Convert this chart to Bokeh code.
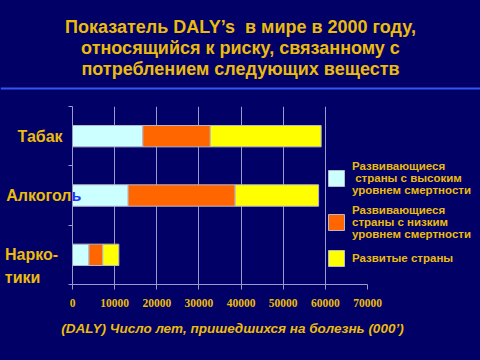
from bokeh.plotting import figure
from bokeh.layouts import column
from bokeh.models import (ColumnDataSource, FixedTicker, Label, Legend, LegendItem,
                          BoxAnnotation)
from bokeh.embed import file_html
from bokeh.resources import INLINE

# ---- data ----
categories = ["Табак", "Алкоголь", "Нарко-тики"]
high_mortality = [16700, 13200, 3900]
low_mortality = [16000, 25400, 3300]
developed = [26300, 19800, 3800]
series_labels = ["Развивающиеся\n страны с высоким\nуровнем смертности",
                 "Развивающиеся\nстраны с низким\nуровнем смертности",
                 "Развитые страны"]
x_ticks = [0, 10000, 20000, 30000, 40000, 50000, 60000, 70000]
title_lines = ["Показатель DALY’s\u00a0 в мире в 2000 году,",
               "относящийся к риску, связанному с",
               "потреблением следующих веществ"]
x_title = "(DALY) Число лет, пришедшихся на болезнь (000’)"

BG = "#000066"
GOLD = "#ECBC0A"
GRID = "#9A9ACB"
colors = ["#CCFFFF", "#FF6600", "#FFFF00"]
NB = "\u00a0"

W = 480
# ---------- top: title + separator ----------
TOP_H = 96
top = figure(width=W, height=TOP_H, output_backend="svg", toolbar_location=None,
             x_axis_type=None, y_axis_type=None, x_range=(0, 1), y_range=(0, 1),
             min_border=0, background_fill_color=BG, border_fill_color=BG,
             outline_line_color=None)
top.frame_align = False
for t, Y in zip(title_lines, [26, 47, 68]):
    top.add_layout(Label(x=240, y=TOP_H - Y, x_units="screen", y_units="screen", text=t,
                         text_align="center", text_baseline="middle", text_color=GOLD,
                         text_font="Liberation Sans", text_font_style="bold",
                         text_font_size="18px"))
top.add_layout(BoxAnnotation(left=0, right=W, bottom=TOP_H - 89, top=TOP_H - 87,
                             left_units="screen", right_units="screen",
                             top_units="screen", bottom_units="screen",
                             fill_color="#3355EE", fill_alpha=1, line_color=None))

# ---------- main chart ----------
MAIN_H = 219          # page y 96 .. 315
FRAME_L, FRAME_R_PAGE = 72, 367   # page x of 0 and 70000
n = len(categories)
ypos = [n - i - 0.5 for i in range(n)]
src = ColumnDataSource(dict(y=ypos, high=high_mortality, low=low_mortality, dev=developed))

x_end = x_ticks[-1] * (W - FRAME_L) / (FRAME_R_PAGE - FRAME_L)
p = figure(width=W, height=MAIN_H, output_backend="svg", toolbar_location=None,
           x_range=(0, x_end), y_range=(0, n),
           min_border_left=FRAME_L, min_border_right=0, min_border_top=10,
           min_border_bottom=31,
           background_fill_color=BG, border_fill_color=BG, outline_line_color=None)
p.frame_align = False

renderers = p.hbar_stack(["high", "low", "dev"], y="y", height=0.36, color=colors,
                         line_color="#B8B8C8", line_width=1, source=src)

p.xaxis.ticker = FixedTicker(ticks=x_ticks)
p.xaxis.bounds = (x_ticks[0], x_ticks[-1])
p.xaxis.axis_line_color = GRID
p.xaxis.major_tick_line_color = GRID
p.xaxis.major_tick_out = 5
p.xaxis.major_tick_in = 0
p.xaxis.minor_tick_line_color = None
p.xaxis.major_label_text_font = "Liberation Serif"
p.xaxis.major_label_text_font_style = "bold"
p.xaxis.major_label_text_font_size = "11.5px"
p.xaxis.major_label_text_color = GOLD
p.xaxis.major_label_standoff = 9
p.xaxis.formatter.use_scientific = False

display = {"Табак": "Табак" + NB * 2,
           "Алкоголь": "Алкогол",
           "Нарко-тики": "\nНарко-" + NB * 3 + "\nтики" + NB * 7}
p.yaxis.ticker = FixedTicker(ticks=ypos, minor_ticks=list(range(n + 1)))
p.yaxis.major_label_overrides = {y: display[c] for y, c in zip(ypos, categories)}
p.yaxis.axis_line_color = GRID
p.yaxis.major_tick_line_color = None
p.yaxis.major_tick_out = 0
p.yaxis.major_tick_in = 0
p.yaxis.minor_tick_line_color = GRID
p.yaxis.minor_tick_out = 4
p.yaxis.minor_tick_in = 0
p.yaxis.major_label_standoff = -3
p.yaxis.major_label_text_color = GOLD
p.yaxis.major_label_text_font = "Liberation Sans"
p.yaxis.major_label_text_font_style = "bold"
p.yaxis.major_label_text_font_size = "16px"
p.yaxis.major_label_text_line_height = 1.35

p.xgrid.ticker = FixedTicker(ticks=x_ticks[1:-1])
p.xgrid.grid_line_color = GRID
p.ygrid.grid_line_color = None

# last letter of "Алкоголь" spills into the plot (blue in the original)
p.add_layout(Label(x=0, y=ypos[1], x_offset=-1, text="ь", text_align="left",
                   text_baseline="middle", text_color="#2233FF",
                   text_font="Liberation Sans", text_font_style="bold",
                   text_font_size="16px"))

items = [LegendItem(label=s, renderers=[r]) for s, r in zip(series_labels, renderers)]
leg = Legend(items=items, location=(254, 16), padding=0, margin=0,
             glyph_width=20, glyph_height=20, label_standoff=6, spacing=8,
             border_line_color=None, background_fill_alpha=0,
             label_text_color=GOLD, label_text_font="Liberation Sans",
             label_text_font_style="bold", label_text_font_size="11.5px",
             label_text_line_height=1.25)
p.add_layout(leg)

# ---------- bottom: axis title ----------
BOT_H = 360 - TOP_H - MAIN_H
bot = figure(width=W, height=BOT_H, output_backend="svg", toolbar_location=None,
             x_axis_type=None, y_axis_type=None, x_range=(0, 1), y_range=(0, 1),
             min_border=0, background_fill_color=BG, border_fill_color=BG,
             outline_line_color=None)
bot.frame_align = False
bot.add_layout(Label(x=232, y=BOT_H - 13, x_units="screen", y_units="screen", text=x_title,
                     text_align="center", text_baseline="middle", text_color=GOLD,
                     text_font="Liberation Sans", text_font_style="bold italic",
                     text_font_size="13.5px"))

layout = column(top, p, bot, spacing=0)
html = file_html(layout, INLINE)
html = html.replace("</head>", "<style>html,body{background:#000066;}</style></head>", 1)
open("out.html", "w").write(html)
